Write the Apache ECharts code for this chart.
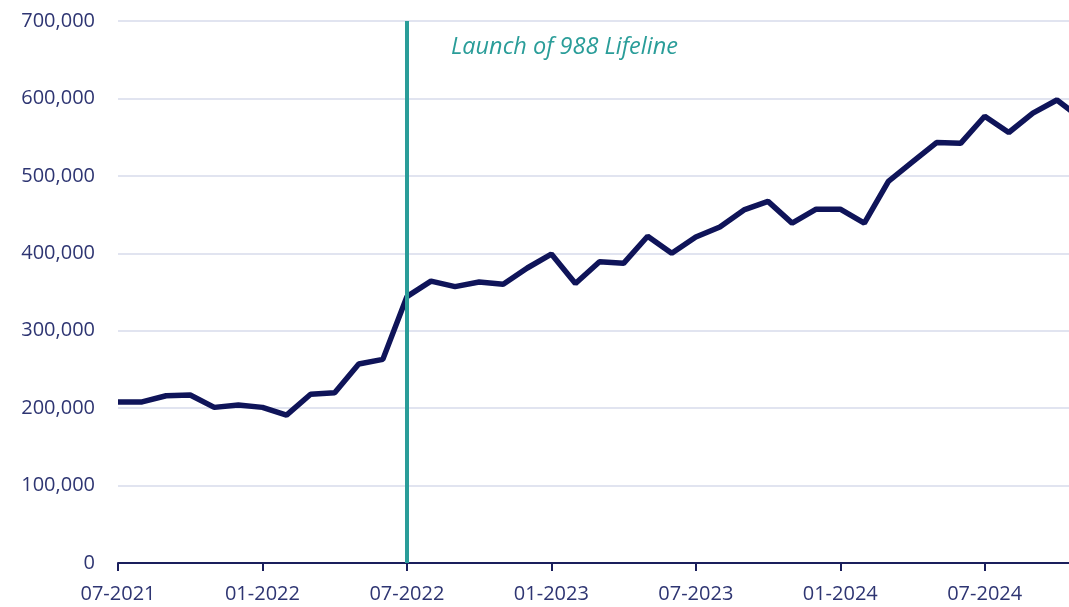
<!DOCTYPE html>
<html>
<head>
<meta charset="utf-8">
<script src="https://cdn.jsdelivr.net/npm/echarts@6/dist/echarts.min.js"></script>
<style>
    html, body { margin: 0; padding: 0; background: #fff; }
    #chart { width: 1069px; height: 607px; }
</style>
</head>
<body>
<div id="chart"></div>
<script>
// months shown on the x axis (07-2021 .. 11-2024, last one runs off the right edge)
const months = [
    '07-2021', '08-2021', '09-2021', '10-2021', '11-2021', '12-2021',
    '01-2022', '02-2022', '03-2022', '04-2022', '05-2022', '06-2022',
    '07-2022', '08-2022', '09-2022', '10-2022', '11-2022', '12-2022',
    '01-2023', '02-2023', '03-2023', '04-2023', '05-2023', '06-2023',
    '07-2023', '08-2023', '09-2023', '10-2023', '11-2023', '12-2023',
    '01-2024', '02-2024', '03-2024', '04-2024', '05-2024', '06-2024',
    '07-2024', '08-2024', '09-2024', '10-2024', '11-2024'
]

// monthly contacts
const contacts = [
    208000, 208000, 216000, 217000, 201000, 204000,
    201000, 191000, 218000, 220000, 257000, 263000,
    344000, 364000, 357000, 363000, 360000, 381000,
    399000, 361000, 389000, 387000, 422000, 400000,
    421000, 434000, 456000, 467000, 439000, 457000,
    457000, 439000, 493000, 518000, 543000, 542000,
    577000, 556000, 581000, 598000, 574000
]

const launchMonth = '07-2022'
const launchText = 'Launch of 988 Lifeline'

const navy = '#0f1459'
const labelColor = '#2e3572'
const teal = '#2a9d99'
const font = '"Open Sans", "Noto Sans", sans-serif'

const chart = echarts.init(document.getElementById('chart'))

const option = {
    animation: false,
    grid: {
        left: 118,
        width: 963,   // runs past the right edge, like the cropped original
        top: 21,
        bottom: 44,
        outerBoundsMode: 'none'
    },
    xAxis: {
        type: 'category',
        boundaryGap: false,
        data: months,
        axisLine: {
            lineStyle: { color: '#1a1f5c', width: 2 }
        },
        axisTick: {
            interval: 5,
            length: 8,
            lineStyle: { color: '#1a1f5c', width: 2 }
        },
        axisLabel: {
            interval: 5,
            margin: 21,
            color: labelColor,
            fontSize: 20,
            fontFamily: font
        },
        splitLine: { show: false }
    },
    yAxis: {
        type: 'value',
        min: 0,
        max: 700000,
        interval: 100000,
        axisLine: { show: false },
        axisTick: { show: false },
        axisLabel: {
            margin: 23,
            color: labelColor,
            fontSize: 20,
            fontFamily: font,
            formatter: (v) => v.toLocaleString('en-US')
        },
        splitLine: {
            lineStyle: { color: '#e1e4f0', width: 2 }
        }
    },
    graphic: [
        {
            type: 'text',
            left: 451,
            top: 36,
            style: {
                text: launchText,
                fill: teal,
                font: 'italic 23.5px ' + font
            }
        }
    ],
    series: [
        {
            type: 'line',
            data: contacts,
            symbol: 'none',
            lineStyle: { color: navy, width: 5.5 },
            markLine: {
                silent: true,
                symbol: 'none',
                label: { show: false },
                lineStyle: { color: teal, width: 4, type: 'solid' },
                data: [{ xAxis: launchMonth }]
            }
        }
    ]
}

chart.setOption(option)
</script>
</body>
</html>
